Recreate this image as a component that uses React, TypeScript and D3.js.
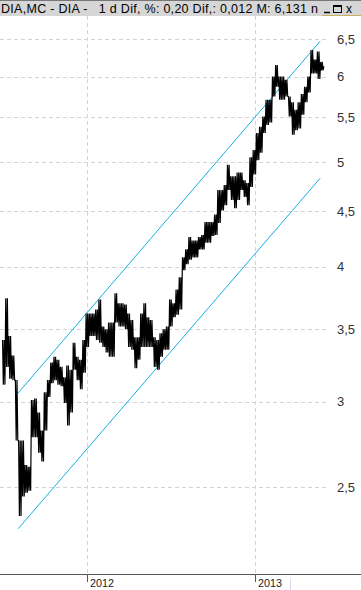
import React from "react";
import * as d3 from "d3";

const W = 361;
const H = 590;

const startDate = new Date(2011, 6, 1);
const weeklyHigh = [
  3.42, 3.74, 3.45, 3.31, 3.14, 2.76, 2.76, 2.62, 2.61, 3.01,
  3.02, 2.93, 2.82, 3.06, 3.14, 3.26, 3.30, 3.28, 3.23, 3.16,
  3.24, 3.21, 3.40, 3.30, 3.28, 3.42, 3.62, 3.62, 3.62, 3.65,
  3.73, 3.52, 3.50, 3.55, 3.55, 3.78, 3.70, 3.70, 3.69, 3.62,
  3.57, 3.44, 3.44, 3.62, 3.70, 3.59, 3.57, 3.44, 3.42, 3.47,
  3.50, 3.52, 3.73, 3.70, 3.81, 3.91, 4.08, 4.15, 4.26, 4.23,
  4.23, 4.26, 4.28, 4.40, 4.40, 4.40, 4.47, 4.71, 4.71, 4.76,
  4.97, 4.85, 4.85, 4.89, 4.89, 4.81, 4.78, 5.05, 5.13, 5.32,
  5.39, 5.51, 5.71, 5.71, 6.00, 6.15, 6.00, 6.00, 5.96, 5.75,
  5.68, 5.59, 5.68, 5.78, 5.87, 6.00, 6.35, 6.22, 6.33, 6.19,
];
const weeklyLow = [
  3.11, 3.23, 3.15, 3.14, 2.76, 2.35, 2.45, 2.47, 2.48, 2.78,
  2.78, 2.69, 2.64, 2.82, 3.03, 3.12, 3.14, 3.11, 3.10, 2.99,
  2.85, 2.93, 3.21, 3.14, 3.08, 3.19, 3.37, 3.45, 3.45, 3.42,
  3.40, 3.37, 3.33, 3.30, 3.30, 3.55, 3.52, 3.52, 3.50, 3.37,
  3.35, 3.22, 3.28, 3.37, 3.37, 3.37, 3.37, 3.23, 3.21, 3.30,
  3.35, 3.35, 3.52, 3.59, 3.61, 3.65, 3.97, 4.02, 4.06, 4.08,
  4.08, 4.15, 4.15, 4.21, 4.21, 4.27, 4.28, 4.39, 4.51, 4.56,
  4.71, 4.61, 4.53, 4.61, 4.71, 4.64, 4.56, 4.74, 4.87, 5.02,
  5.10, 5.32, 5.41, 5.44, 5.75, 5.87, 5.71, 5.71, 5.75, 5.51,
  5.30, 5.35, 5.37, 5.53, 5.68, 5.80, 6.04, 6.04, 5.97, 6.08,
];
const lastClose = 6.131;

const yTicks = [2.5, 3, 3.5, 4, 4.5, 5, 5.5, 6, 6.5];
const xTickDates = [new Date(2012, 0, 1), new Date(2013, 0, 1)];
const xTickLabels = ["2012", "2013"];

const channelDates = [new Date(2011, 7, 4), new Date(2013, 4, 23)];
const upperChannel = [3.055, 6.47];
const lowerChannel = [2.287, 4.83];

const headerText = "DIA,MC - DIA -   1 d Dif, %: 0,20 Dif,: 0,012 M: 6,131 n";

const fmt = (v: number) => String(v).replace(".", ",");

export default function App() {
  const x = d3
    .scaleTime()
    .domain([new Date(2012, 0, 1), new Date(2013, 0, 1)])
    .range([87, 255]);
  const y = d3.scaleLog().domain([2.5, 6.5]).range([487, 39]);

  const DAY = 864e5;
  const pts: [Date, number][] = [];
  weeklyHigh.forEach((hi, i) => {
    const lo = weeklyLow[i];
    const t = d3.timeDay.offset(startDate, 7 * i).getTime();
    pts.push(
      [new Date(t), hi],
      [new Date(t + 1.75 * DAY), lo],
      [new Date(t + 3.5 * DAY), hi],
      [new Date(t + 5.25 * DAY), lo]
    );
  });
  pts.push([d3.timeDay.offset(startDate, 7 * weeklyHigh.length), lastClose]);

  const line = d3
    .line<[Date, number]>()
    .x((d) => x(d[0]))
    .y((d) => y(d[1]));

  const chLine = (vals: number[]) =>
    line(channelDates.map((d, i) => [d, vals[i]] as [Date, number])) || "";

  const plotRight = 326;
  const axisY = 574;
  const font = "'Liberation Sans', Arial, sans-serif";

  return (
    <svg
      width={W}
      height={H}
      style={{ position: "absolute", left: 0, top: 0, background: "#fff" }}
    >
      <rect x={0} y={0} width={W} height={H} fill="#fff" />
      {yTicks.map((t) => (
        <line
          key={"g" + t}
          x1={0}
          x2={plotRight}
          y1={Math.round(y(t)) + 0.5}
          y2={Math.round(y(t)) + 0.5}
          stroke="#d4d4d4"
          strokeDasharray="4,3"
        />
      ))}
      {xTickDates.map((d, i) => (
        <line
          key={"v" + i}
          x1={Math.round(x(d)) + 0.5}
          x2={Math.round(x(d)) + 0.5}
          y1={16}
          y2={axisY}
          stroke="#d4d4d4"
          strokeDasharray="4,3"
        />
      ))}
      <path d={chLine(upperChannel)} fill="none" stroke="#12b0e2" strokeWidth={1} />
      <path d={chLine(lowerChannel)} fill="none" stroke="#12b0e2" strokeWidth={1} />
      <path
        d={line(pts) || ""}
        fill="none"
        stroke="#000"
        strokeWidth={1.2}
        strokeLinejoin="bevel"
      />
      {yTicks.map((t) => (
        <text
          key={"l" + t}
          x={337}
          y={y(t)}
          dy="0.35em"
          fontSize={13}
          fontFamily={font}
          fill="#333"
        >
          {fmt(t)}
        </text>
      ))}
      <line x1={0} x2={W} y1={axisY + 0.5} y2={axisY + 0.5} stroke="#555" />
      {xTickDates.map((d, i) => (
        <g key={"xt" + i}>
          <line
            x1={Math.round(x(d)) + 0.5}
            x2={Math.round(x(d)) + 0.5}
            y1={axisY}
            y2={axisY + 8}
            stroke="#555"
          />
          <text
            x={Math.round(x(d)) + 3}
            y={587}
            fontSize={11.5}
            fontFamily={font}
            fill="#222"
            textLength={24}
            lengthAdjust="spacingAndGlyphs"
          >
            {xTickLabels[i]}
          </text>
        </g>
      ))}
      <line x1={290.5} x2={290.5} y1={579} y2={590} stroke="#dcd8ec" />
      <rect x={0} y={0} width={W} height={16} fill="#d6d6d6" />
      <line x1={0} x2={W} y1={0.5} y2={0.5} stroke="#777" />
      <text
        x={1}
        y={13}
        fontSize={12.5}
        fontFamily={font}
        fill="#000"
        textLength={317}
        lengthAdjust="spacing"
        style={{ whiteSpace: "pre" }}
      >
        {headerText}
      </text>
      <line x1={324} x2={330} y1={12.5} y2={12.5} stroke="#000" strokeWidth={1.5} />
      <rect x={333.5} y={5.5} width={8} height={7} fill="none" stroke="#000" />
      <line x1={334} x2={341} y1={6.5} y2={6.5} stroke="#000" />
      <text x={346} y={13} fontSize={12} fontFamily={font} fill="#000">
        x
      </text>
      <line x1={322} x2={W} y1={15.5} y2={15.5} stroke="#c8b060" />
    </svg>
  );
}
